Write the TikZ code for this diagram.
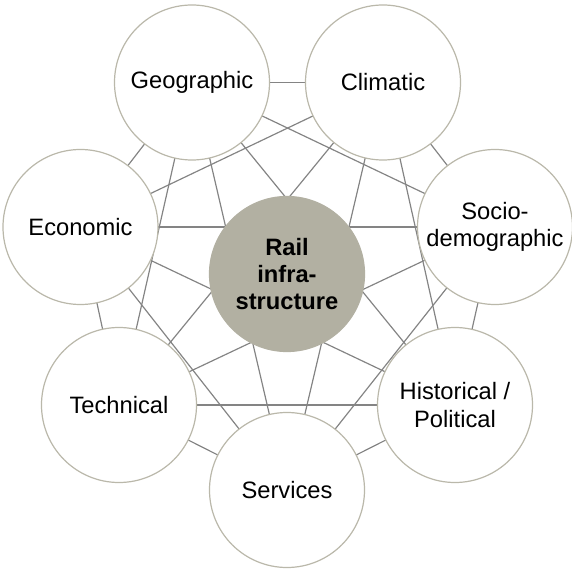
\documentclass[tikz,border=0pt]{standalone}
\usepackage{fontspec}
\setmainfont{Liberation Sans}
\usepackage{xcolor}
\usepackage{tikz}
\definecolor{rimgray}{RGB}{186,184,170}
\definecolor{hubfill}{RGB}{178,176,162}
\definecolor{linkgray}{RGB}{132,132,132}
\tikzset{
  factor/.style={circle, fill=white, draw=rimgray, line width=1.2pt, minimum size=155bp, inner sep=0pt, align=center, font=\fontsize{23.8}{27.5}\selectfont},
  hub/.style={factor, fill=hubfill, draw=hubfill, font=\fontsize{23.8}{27.5}\selectfont\bfseries},
  lk/.style={draw=linkgray, line width=1.2pt},
  web/.style={x=1bp, y=1bp}
}
\begin{document}
\begin{tikzpicture}[web]
  \useasboundingbox (-287,-295) rectangle (285,274);
  % links first, circles on top
  \coordinate (geo) at (-95,191.5);
  \coordinate (cli) at (96,191.5);
  \coordinate (soc) at (208,47);
  \coordinate (his) at (168,-131);
  \coordinate (ser) at (0,-216);
  \coordinate (tec) at (-168,-131);
  \coordinate (eco) at (-206.5,47);
  \draw[lk] (geo)--(cli); \draw[lk] (cli)--(soc); \draw[lk] (soc)--(his);
  \draw[lk] (his)--(ser); \draw[lk] (ser)--(tec); \draw[lk] (tec)--(eco);
  \draw[lk] (eco)--(geo);
  \draw[lk] (geo)--(soc); \draw[lk] (cli)--(his); \draw[lk] (soc)--(ser);
  \draw[lk] (his)--(tec); \draw[lk] (ser)--(eco); \draw[lk] (tec)--(geo);
  \draw[lk] (eco)--(cli);
  \draw[lk] (geo)--(his); \draw[lk] (cli)--(ser); \draw[lk] (soc)--(tec);
  \draw[lk] (his)--(eco); \draw[lk] (ser)--(geo); \draw[lk] (tec)--(cli);
  \draw[lk] (eco)--(soc);
  \node[factor] (Geo) at (geo) {Geographic};
  \node[factor] (Cli) at (cli) {Climatic};
  \node[factor] (Soc) at (soc) {Socio-\\demographic};
  \node[factor] (His) at (his) {Historical /\\Political};
  \node[factor] (Ser) at (ser) {Services};
  \node[factor] (Tec) at (tec) {Technical};
  \node[factor] (Eco) at (eco) {Economic};
  \node[hub] (rail) at (0,0) {Rail\\infra-\\structure};
\end{tikzpicture}
\end{document}
